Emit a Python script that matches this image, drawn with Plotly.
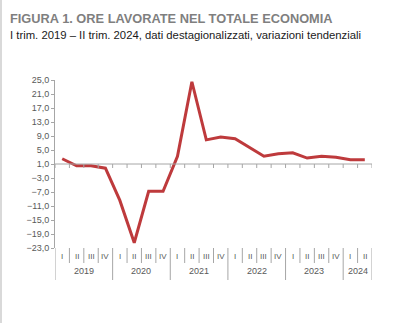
import plotly.graph_objects as go

years = ["2019", "2020", "2021", "2022", "2023", "2024"]
quarters_per_year = [["I", "II", "III", "IV"]] * 5 + [["I", "II"]]
quarter_labels = [q for qs in quarters_per_year for q in qs]
values = [2.5, 0.5, 0.5, -0.2, -9.4, -21.5, -6.8, -6.8, 3.2, 24.5, 7.9, 8.7,
          8.2, 5.8, 3.2, 3.9, 4.2, 2.7, 3.2, 2.9, 2.2, 2.2]
ytick_vals = list(range(-23, 26, 4))

title_text = "FIGURA 1. ORE LAVORATE NEL TOTALE ECONOMIA"
subtitle_text = "I trim. 2019 – II trim. 2024, dati destagionalizzati, variazioni tendenziali"

FONT = "Liberation Sans Narrow, Arial Narrow, Liberation Sans, Arial, sans-serif"
GRAY = "#A6A6A6"
TXT = "#595959"
RED = "#BE3A3C"

idx = list(range(len(values)))
fig = go.Figure()
fig.add_trace(go.Scatter(x=idx, y=values, mode="lines",
                         line=dict(color=RED, width=3), hoverinfo="skip"))

shapes = []
# horizontal axis line at y = 1
shapes.append(dict(type="line", xref="x domain", x0=0, x1=1, yref="y", y0=1, y1=1,
                   line=dict(color=GRAY, width=1)))
n = len(values)
year_bounds = [0]
for qs in quarters_per_year:
    year_bounds.append(year_bounds[-1] + len(qs))
for k in range(n + 1):
    xb = k - 0.5
    # small tick on the y=1 line
    shapes.append(dict(type="line", xref="x", x0=xb, x1=xb, yref="y", ysizemode="pixel",
                       yanchor=1, y0=0, y1=-4, line=dict(color=GRAY, width=1)))
    length = -32 if k in year_bounds else -15
    shapes.append(dict(type="line", xref="x", x0=xb, x1=xb, yref="paper", ysizemode="pixel",
                       yanchor=0, y0=0, y1=length, line=dict(color=GRAY, width=1)))

annotations = []
for i, q in enumerate(quarter_labels):
    annotations.append(dict(x=i, xref="x", y=0, yref="paper", yanchor="middle", yshift=-8,
                            text=q, showarrow=False, font=dict(family=FONT, size=8, color=TXT)))
for y_i, yr in enumerate(years):
    mid = (year_bounds[y_i] + year_bounds[y_i + 1] - 1) / 2
    annotations.append(dict(x=mid, xref="x", y=0, yref="paper", yanchor="middle", yshift=-23,
                            text=yr, showarrow=False, font=dict(family=FONT, size=9, color=TXT)))
annotations.append(dict(x=0, xref="paper", xanchor="left", xshift=-47, y=1, yref="paper",
                        yanchor="middle", yshift=62, text="<b>" + title_text + "</b>",
                        showarrow=False, font=dict(family=FONT, size=12.8, color="#7F7F7F")))
annotations.append(dict(x=0, xref="paper", xanchor="left", xshift=-47, y=1, yref="paper",
                        yanchor="middle", yshift=45, text=subtitle_text,
                        showarrow=False, font=dict(family=FONT, size=11.3, color="#1A1A1A")))

# left light-gray border
shapes.append(dict(type="line", xref="paper", x0=-54 / 317, x1=-54 / 317, yref="paper",
                   y0=-75 / 168, y1=1 + 80 / 168, line=dict(color="#D9D9D9", width=2)))

fig.update_layout(
    width=400, height=323,
    margin=dict(l=55, r=28, t=80, b=75),
    paper_bgcolor="white", plot_bgcolor="white",
    separators=",.",
    showlegend=False,
    shapes=shapes, annotations=annotations,
    xaxis=dict(range=[-0.5, n - 0.5], showticklabels=False, showgrid=False,
               zeroline=False, showline=False, ticks=""),
    yaxis=dict(range=[-23, 25], tickvals=ytick_vals, tickformat=".1f", ticks="outside",
               ticklen=3, tickcolor=GRAY, showline=True, linecolor=GRAY, linewidth=1,
               showgrid=False, zeroline=False,
               tickfont=dict(family=FONT, size=9, color=TXT)),
)

fig.write_html("out.html")
